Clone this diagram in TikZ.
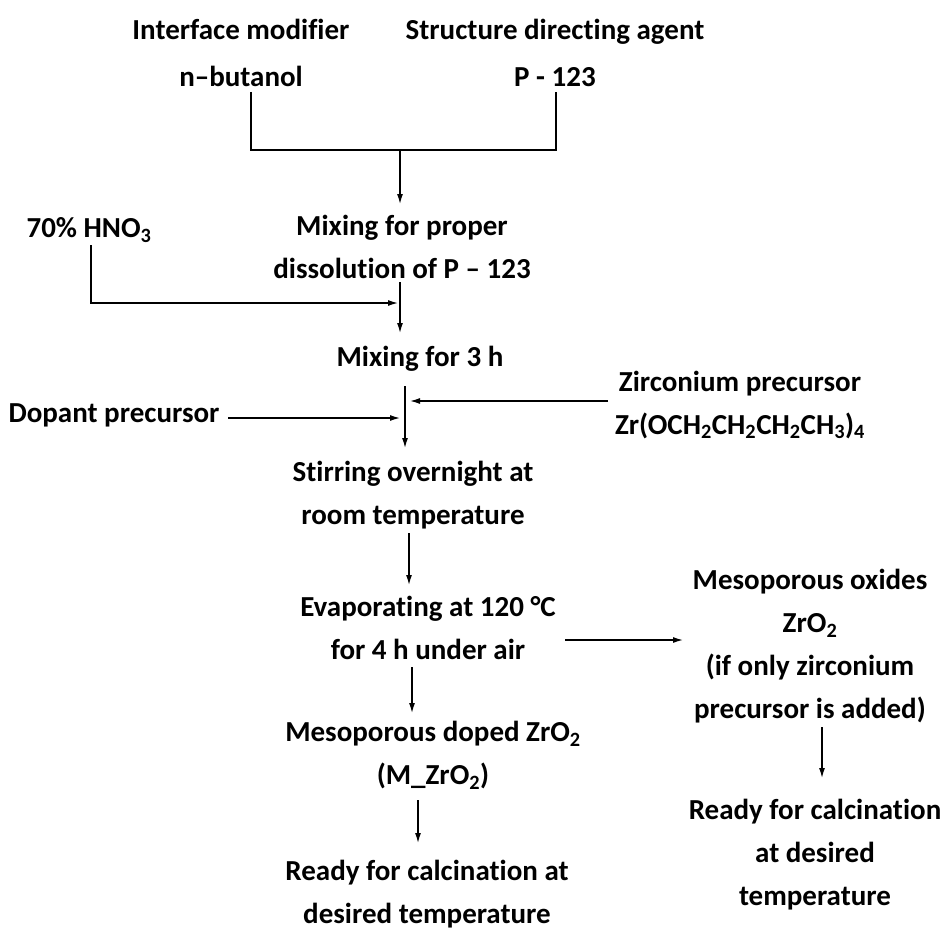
\documentclass[tikz,border=0pt]{standalone}
\usepackage{fontspec}
\setmainfont{Carlito}[Ligatures={NoCommon,TeX}]
\usetikzlibrary{arrows.meta}
\begin{document}
\begin{tikzpicture}[x=1pt,y=-1pt,
  txt/.style={font=\fontsize{29}{43}\selectfont\bfseries, align=center, inner sep=0pt, outer sep=0pt},
  ln/.style={line width=1.3pt},
  arr/.style={line width=1.3pt, -{Latex[length=10pt,width=6pt]}}]
\useasboundingbox (0,0) rectangle (944,931);
% text blocks
\node[txt] (im)  at (241,53)  {Interface modifier\\[4pt]n–butanol};
\node[txt] (sda) at (555,53)  {Structure directing agent\\[4pt]P - 123};
\node[txt] (mix1) at (402,247) {Mixing for proper\\dissolution of P – 123};
\node[txt] (hno) at (89,230)  {70\% HNO\textsubscript{3}};
\node[txt] (mix3) at (420,359) {Mixing for 3 h};
\node[txt] (dop) at (114,415) {Dopant precursor};
\node[txt] (zr)  at (740,405) {Zirconium precursor\\Zr(OCH\textsubscript{2}CH\textsubscript{2}CH\textsubscript{2}CH\textsubscript{3})\textsubscript{4}};
\node[txt] (stir) at (413,495) {Stirring overnight at\\room temperature};
\node[txt] (evap) at (428,628) {Evaporating at 120 °C\\for 4 h under air};
\node[txt] (mox) at (810,646) {Mesoporous oxides\\ZrO\textsubscript{2}\\(if only zirconium\\precursor is added)};
\node[txt] (rdyr) at (815,855) {Ready for calcination\\at desired\\temperature};
\node[txt] (mdz) at (433,755) {Mesoporous doped ZrO\textsubscript{2}\\(M\_ZrO\textsubscript{2})};
\node[txt] (rdyl) at (427,894) {Ready for calcination at\\desired temperature};
% junction points
\coordinate (jlt) at (251,92);
\coordinate (jrt) at (556,92);
\coordinate (jl) at (251,150);
\coordinate (jr) at (556,150);
\coordinate (jm) at (400,150);
\coordinate (ja) at (400,204);
\coordinate (hs) at (91,245);
\coordinate (hc) at (91,303);
\coordinate (hj) at (398,303);
\coordinate (m1b) at (400,282);
\coordinate (m1e) at (400,333);
\coordinate (m3b) at (405,386);
\coordinate (m3e) at (405,448);
\coordinate (ds) at (228,418);
\coordinate (de) at (400,418);
\coordinate (zs) at (608,401);
\coordinate (ze) at (410,401);
\coordinate (sb) at (409,533);
\coordinate (se) at (409,585);
\coordinate (es) at (565,640);
\coordinate (ee) at (683,640);
\coordinate (ob) at (822,727);
\coordinate (oe) at (822,778);
\coordinate (eb) at (412,667);
\coordinate (ed) at (412,713);
\coordinate (mb) at (418,800);
\coordinate (me) at (418,843);
% connectors
\draw[ln] (jlt) -- (jl) -- (jr) -- (jrt);
\draw[arr] (jm) -- (ja);
\draw[arr] (hs) -- (hc) -- (hj);
\draw[arr] (m1b) -- (m1e);
\draw[arr] (m3b) -- (m3e);
\draw[arr] (ds) -- (de);
\draw[arr] (zs) -- (ze);
\draw[arr] (sb) -- (se);
\draw[arr] (es) -- (ee);
\draw[arr] (ob) -- (oe);
\draw[arr] (eb) -- (ed);
\draw[arr] (mb) -- (me);
\end{tikzpicture}
\end{document}
